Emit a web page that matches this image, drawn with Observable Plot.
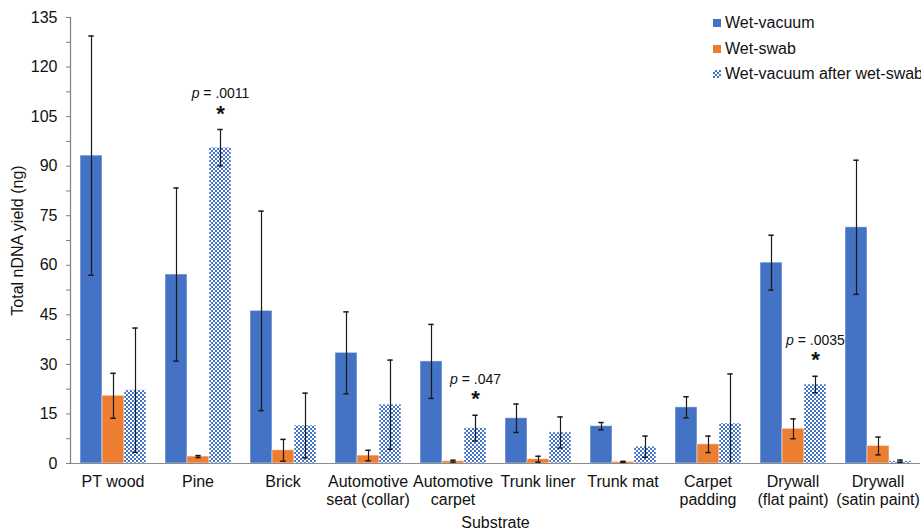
<!DOCTYPE html>
<html>
<head>
<meta charset="utf-8">
<script src="https://cdn.jsdelivr.net/npm/d3@7"></script>
<script src="https://cdn.jsdelivr.net/npm/@observablehq/plot@0.6"></script>
<style>
  html, body { margin: 0; padding: 0; background: #fff; overflow: hidden; }
  #chart { position: relative; width: 921px; height: 532px; }
  .legend { position: absolute; left: 713px; top: 10px; font: 16px "Liberation Sans", Arial, sans-serif; color: #111; white-space: nowrap; }
  .legend .row { display: flex; align-items: center; height: 25.7px; }
  .legend .sw { width: 8px; height: 8px; margin-right: 4px; flex: none; }
</style>
</head>
<body>
<div id="chart"></div>
<script>
// Substrates (x categories) and their two-line tick labels
const categories = [
  "PT wood", "Pine", "Brick", "Automotive seat (collar)", "Automotive carpet",
  "Trunk liner", "Trunk mat", "Carpet padding", "Drywall (flat paint)", "Drywall (satin paint)"
];
const tickLabels = [
  "PT wood", "Pine", "Brick", "Automotive\nseat (collar)", "Automotive\ncarpet",
  "Trunk liner", "Trunk mat", "Carpet\npadding", "Drywall\n(flat paint)", "Drywall\n(satin paint)"
];
const seriesNames = ["Wet-vacuum", "Wet-swab", "Wet-vacuum after wet-swab"];
const seriesColors = ["#4472C4", "#ED7D31", "url(#checker)"];

// Mean total nDNA yield (ng) and standard deviation per method
const wetVacuum   = [93.2, 57.2, 46.2, 33.5, 30.9, 13.7, 11.3, 17.0, 60.8, 71.5];
const wetVacuumSD = [36.2, 26.2, 30.2, 12.4, 11.2, 4.3, 1.1, 3.2, 8.3, 20.3];
const wetSwab     = [20.5, 2.1, 4.0, 2.4, 0.7, 1.3, 0.5, 5.8, 10.5, 5.3];
const wetSwabSD   = [6.8, 0.3, 3.3, 1.6, 0.3, 0.9, 0.15, 2.5, 3.0, 2.7];
const afterSwab   = [22.2, 95.6, 11.5, 17.8, 10.7, 9.4, 5.1, 12.1, 23.9, 0.7];
const afterSwabSD = [18.8, 5.5, 9.8, 13.5, 3.9, 4.7, 3.2, 15.0, 2.5, 0.35];

// Significant differences (wet-vacuum after wet-swab)
const sigCategories = ["Pine", "Automotive carpet", "Drywall (flat paint)"];
const sigLabels = ["p = .0011", "p = .047", "p = .0035"];

// Y axis ticks
const majorTicks = [0, 15, 30, 45, 60, 75, 90, 105, 120, 135];
const minorTicks = [7.5, 22.5, 37.5, 52.5, 67.5, 82.5, 97.5, 112.5, 127.5];

const means = [wetVacuum, wetSwab, afterSwab];
const sds = [wetVacuumSD, wetSwabSD, afterSwabSD];

const rows = categories.flatMap((category, i) =>
  seriesNames.map((series, s) => {
    const value = means[s][i];
    const sd = sds[s][i];
    return {category, series, value, lo: Math.max(0, value - sd), hi: value + sd};
  })
);

const sigRows = sigCategories.map((category, k) => {
  const r = rows.find(d => d.category === category && d.series === seriesNames[2]);
  return {...r, label: sigLabels[k]};
});

const ink = "#111";
const errStroke = "#1a1a1a";
const axisGrey = "#7f7f7f";

const chart = Plot.plot({
  width: 921,
  height: 532,
  marginLeft: 70,
  marginRight: 1,
  marginTop: 17,
  marginBottom: 69,
  style: {fontFamily: '"Liberation Sans", Arial, sans-serif', fontSize: "16px", color: ink, background: "#fff"},
  fx: {domain: categories, padding: 0},
  x: {domain: seriesNames, paddingInner: 0, paddingOuter: 0.375, axis: null},
  y: {domain: [0, 135]},
  color: {domain: seriesNames, range: seriesColors},
  marks: [
    Plot.barY(rows, {
      fx: "category", x: "series", y: "value", fill: "series",
      stroke: "#fff", strokeOpacity: 0.5, strokeWidth: 1
    }),
    Plot.ruleY([0], {stroke: "#8c8c8c", strokeWidth: 1.2}),
    Plot.frame({anchor: "left", facetAnchor: "left", stroke: axisGrey, strokeWidth: 1.2}),
    Plot.ruleX(rows, {fx: "category", x: "series", y1: "lo", y2: "hi", stroke: errStroke, strokeWidth: 1.2}),
    Plot.tickY(rows, {fx: "category", x: "series", y: "hi", insetLeft: 8.3, insetRight: 8.3, stroke: errStroke, strokeWidth: 1.5}),
    Plot.tickY(rows.filter(d => d.lo > 0), {fx: "category", x: "series", y: "lo", insetLeft: 8.3, insetRight: 8.3, stroke: errStroke, strokeWidth: 1.5}),
    Plot.text(sigRows, {
      fx: "category", x: "series", y: "hi", text: "label",
      dy: -36, fontSize: 14, fill: ink
    }),
    Plot.text(sigRows, {
      fx: "category", x: "series", y: "hi", text: () => "*",
      dy: -16, fontSize: 22, fontWeight: "bold", fill: ink
    }),
    Plot.axisY({
      ticks: majorTicks, tickSize: 4, tickPadding: 9,
      stroke: axisGrey, fill: ink, fontSize: 16,
      label: "Total nDNA yield (ng)", labelAnchor: "center", labelArrow: "none", labelOffset: 59
    }),
    Plot.axisY({
      ticks: minorTicks, tickSize: 4, tickFormat: () => "", stroke: axisGrey, label: null
    }),
    Plot.axisFx({
      anchor: "bottom", tickSize: 0, tickPadding: 10, fontSize: 16, lineHeight: 1.15, fill: ink,
      tickFormat: c => tickLabels[categories.indexOf(c)],
      label: "Substrate", labelAnchor: "center", labelArrow: "none", labelOffset: 64
    })
  ]
});

// Checkerboard fill used by the third series
const ns = "http://www.w3.org/2000/svg";
const defs = document.createElementNS(ns, "defs");
defs.innerHTML = `
  <pattern id="checker" patternUnits="userSpaceOnUse" width="4" height="4">
    <rect width="4" height="4" fill="#ffffff"/>
    <rect x="0" y="0" width="2" height="2" fill="#4472C4"/>
    <rect x="2" y="2" width="2" height="2" fill="#4472C4"/>
  </pattern>`;
chart.insertBefore(defs, chart.firstChild);

// Italic "p" in the significance labels; plain axis titles
chart.querySelectorAll("text").forEach(t => {
  const s = t.textContent;
  if (sigLabels.includes(s)) {
    while (t.firstChild) t.removeChild(t.firstChild);
    const p = document.createElementNS(ns, "tspan");
    p.setAttribute("font-style", "italic");
    p.textContent = s.slice(0, 1);
    t.appendChild(p);
    t.appendChild(document.createTextNode(s.slice(1)));
  } else if (/[↑→↓←]/.test(s)) {
    t.textContent = s.replace(/\s*[↑→↓←]\s*/g, "");
  }
});

const root = document.getElementById("chart");
root.appendChild(chart);

// Legend overlaid at the top right
const legend = document.createElement("div");
legend.className = "legend";
seriesNames.forEach((name, s) => {
  const row = document.createElement("div");
  row.className = "row";
  const sw = document.createElement("span");
  sw.className = "sw";
  sw.style.background = s === 2
    ? "repeating-conic-gradient(#4472C4 0 25%, #fff 0 50%) 0 0 / 4px 4px"
    : seriesColors[s];
  const label = document.createElement("span");
  label.textContent = name;
  row.appendChild(sw);
  row.appendChild(label);
  legend.appendChild(row);
});
root.appendChild(legend);
</script>
</body>
</html>
